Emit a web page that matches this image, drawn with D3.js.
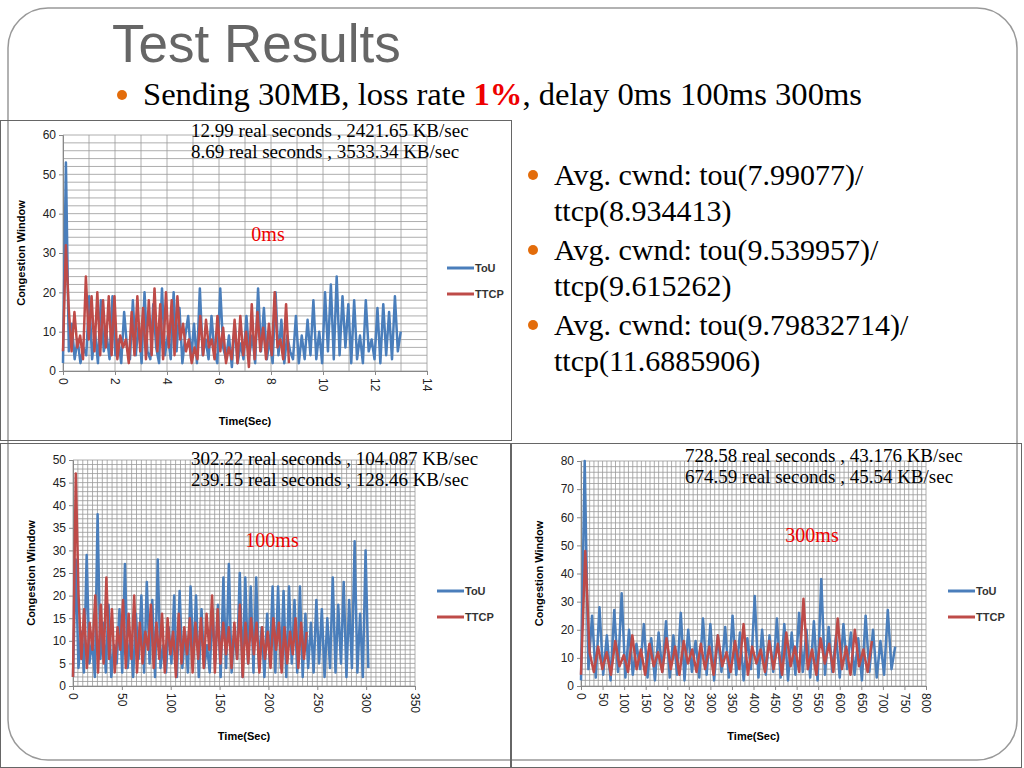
<!DOCTYPE html>
<html><head><meta charset="utf-8">
<script src="https://cdn.jsdelivr.net/npm/d3@7"></script>
<style>body{margin:0;background:#fff}svg{display:block}</style>
</head><body>
<svg id="s" width="1024" height="768"></svg>
<script>
// slide text
var title = "Test Results";
var bullets = ["Avg. cwnd: tou(7.99077)/", "ttcp(8.934413)", "Avg. cwnd: tou(9.539957)/", "ttcp(9.615262)", "Avg. cwnd: tou(9.79832714)/", "ttcp(11.6885906)"];
var seriesNames = ["ToU", "TTCP"];

// chart 1 (0ms): sample values, spread evenly over the run time
var tou0ms = [2,53,5,12,3,8,2,6,4,19,3,10,2,18,5,9,3,19,4,8,2,15,6,3,18,4,12,2,20,5,3,17,6,2,21,4,9,3,20,5,16,2,9,14,3,12,2,21,4,8,3,14,5,2,21,6,3,9,1,12,2,7,3,14,4,9,2,21,5,16,3,8,2,20,4,13,2,9,5,3,14,2,9,3,13,4,18,3,10,2,20,5,22,3,24,4,19,6,17,2,18,3,9,2,18,5,8,3,16,2,17,4,15,3,19,5,10];
var ttcp0ms = [5,32,16,5,15,6,9,3,24,8,19,5,20,4,18,6,19,4,19,3,9,6,8,2,15,4,19,5,16,3,18,4,21,5,17,3,20,6,18,4,19,8,12,5,8,2,6,3,14,4,13,6,8,3,14,5,11,2,6,3,13,2,14,4,10,1,17,3,15,5,11,3,12,4,20,6,8,3,17,2];
var dur0ms = [12.99, 8.69];

// chart 2 (100ms)
var tou100ms = [2,28,4,12,3,29,5,10,2,38,6,14,3,18,2,9,5,17,3,27,4,11,2,16,6,20,3,23,5,19,2,28,4,9,3,13,5,20,2,21,4,12,3,22,6,20,2,17,4,9,3,17,5,18,2,24,4,27,3,12,6,25,2,24,5,22,3,24,4,13,2,16,5,22,3,22,4,21,2,22,5,19,3,22,2,16,4,14,3,19,5,17,2,15,4,24,3,18,5,23,2,19,4,32,3,16,2,30,4];
var ttcp100ms = [2,47,20,6,17,4,14,8,20,3,18,5,24,6,17,3,13,8,19,4,16,6,20,3,14,5,12,8,18,4,14,6,16,3,15,7,12,2,16,5,13,7,15,3,14,6,15,4,16,8,20,3,17,5,14,7,13,4,14,6,18,2,14,5,15,7,14,3,13,6,12,4,15,8,14,3,13,5,12,7,15,4,14,6,12];
var dur100ms = [302.22, 239.15];

// chart 3 (300ms)
var tou300ms = [2,80,6,25,3,28,4,18,2,27,5,33,3,20,4,15,6,22,3,17,2,19,5,23,3,18,4,26,2,20,5,16,3,24,4,22,2,18,5,21,3,25,4,19,2,17,6,32,3,20,4,18,5,24,3,22,2,19,4,26,5,20,3,23,2,38,4,21,5,18,3,22,6,19,4,17,2,25,5,20,3,16,4,27,6,14];
var ttcp300ms = [4,48,12,5,14,6,12,4,16,7,11,5,18,6,13,4,15,7,12,5,17,6,14,4,16,8,13,5,15,6,14,4,18,7,12,5,16,6,22,4,14,8,13,5,16,6,15,4,19,7,14,5,31,6,13,4,17,8,15,5,24,6,14,4,20,7,13,5,16];
var dur300ms = [728.58, 674.59];

var charts = [
  {x0:63, x1:427, y0:371, y1:135, xmax:14, xstep:2, xminor:1, ymax:60, ystep:10, yminor:2,
   data:[tou0ms, ttcp0ms], dur:dur0ms, label:"0ms", lx:268, ly:241,
   stats:["12.99 real seconds , 2421.65 KB/sec","8.69 real seconds , 3533.34 KB/sec"], sx:191, sy:137,
   legX:447, legY:268, box:[0,120,512,321]},
  {x0:73, x1:415, y0:686, y1:460, xmax:350, xstep:50, xminor:5, ymax:50, ystep:5, yminor:1,
   data:[tou100ms, ttcp100ms], dur:dur100ms, label:"100ms", lx:272, ly:547,
   stats:["302.22 real seconds , 104.087 KB/sec","239.15 real seconds ,  128.46 KB/sec"], sx:191, sy:465,
   legX:437, legY:591, box:[0,443,512,325]},
  {x0:581, x1:926, y0:686, y1:461, xmax:800, xstep:50, xminor:10, ymax:80, ystep:10, yminor:2,
   data:[tou300ms, ttcp300ms], dur:dur300ms, label:"300ms", lx:812, ly:542,
   stats:["728.58 real seconds , 43.176 KB/sec","674.59 real seconds , 45.54 KB/sec"], sx:685, sy:462,
   legX:948, legY:591, box:[510,443,512,325]}
];
var colors = ["#4a7ebb", "#be4b48"];

var svg = d3.select("#s");
svg.append("rect").attr("x",8).attr("y",8).attr("width",1009).attr("height",752)
  .attr("rx",40).attr("fill","none").attr("stroke","#999").attr("stroke-width",1.5);

svg.append("text").attr("x",112).attr("y",62).attr("font-family","Liberation Sans, Arial")
  .attr("font-size",53).attr("fill","#666").text(title);
svg.append("circle").attr("cx",122).attr("cy",95).attr("r",5).attr("fill","#e36c0a");
var sub = svg.append("text").attr("x",143).attr("y",105).attr("font-family","Liberation Serif, serif")
  .attr("font-size",31).attr("fill","#000").attr("textLength",719).attr("lengthAdjust","spacingAndGlyphs");
sub.append("tspan").text("Sending 30MB, loss rate ");
sub.append("tspan").attr("fill","#e00").attr("font-weight","bold").text("1%");
sub.append("tspan").text(", delay 0ms 100ms 300ms");

bullets.forEach(function(b,i){
  var y = 185 + i*35.5 + Math.floor(i/2)*4;
  if(i%2===0) svg.append("circle").attr("cx",533).attr("cy",y-10).attr("r",5).attr("fill","#e36c0a");
  svg.append("text").attr("x",554).attr("y",y).attr("font-family","Liberation Serif, serif")
    .attr("font-size",30).attr("fill","#000").text(b);
});

charts.forEach(function(c){
  var g = svg.append("g");
  g.append("rect").attr("x",c.box[0]+0.5).attr("y",c.box[1]+0.5).attr("width",c.box[2]-1).attr("height",c.box[3]-1)
    .attr("fill","none").attr("stroke","#666");
  var x = d3.scaleLinear().domain([0,c.xmax]).range([c.x0,c.x1]);
  var y = d3.scaleLinear().domain([0,c.ymax]).range([c.y0,c.y1]);
  // grid
  g.selectAll(".gh").data(d3.range(0,c.ymax+0.001,c.yminor)).join("line")
    .attr("x1",c.x0).attr("x2",c.x1).attr("y1",d=>y(d)).attr("y2",d=>y(d))
    .attr("stroke","#999").attr("stroke-width",0.8);
  g.selectAll(".gv").data(d3.range(0,c.xmax+0.001,c.xminor)).join("line")
    .attr("y1",c.y0).attr("y2",c.y1).attr("x1",d=>x(d)).attr("x2",d=>x(d))
    .attr("stroke","#999").attr("stroke-width",0.8);
  // axes
  var ya = g.append("g").attr("transform","translate("+c.x0+",0)")
    .call(d3.axisLeft(y).tickValues(d3.range(0,c.ymax+0.001,c.ystep)).tickSize(4));
  var xa = g.append("g").attr("transform","translate(0,"+c.y0+")")
    .call(d3.axisBottom(x).tickValues(d3.range(0,c.xmax+0.001,c.xstep)).tickSize(4));
  [ya,xa].forEach(function(a){
    a.select(".domain").attr("stroke","#888");
    a.selectAll("line").attr("stroke","#888");
    a.selectAll("text").attr("font-family","Liberation Sans, Arial").attr("font-size",12).attr("fill","#222");
  });
  xa.selectAll("text").attr("transform","rotate(90)").attr("text-anchor","start")
    .attr("x",7).attr("y",0).attr("dy","0.35em");
  g.append("text").attr("transform","translate("+(c.x0-38)+","+((c.y0+c.y1)/2)+") rotate(-90)")
    .attr("text-anchor","middle").attr("font-family","Liberation Sans, Arial").attr("font-weight","bold")
    .attr("font-size",11).text("Congestion Window");
  g.append("text").attr("x",(c.x0+c.x1)/2).attr("y",c.y0+54).attr("text-anchor","middle")
    .attr("font-family","Liberation Sans, Arial").attr("font-weight","bold").attr("font-size",11).text("Time(Sec)");
  // series
  c.data.forEach(function(vals,k){
    var dt = c.dur[k]/(vals.length-1);
    g.append("path").datum(vals)
      .attr("d", d3.line().x((d,i)=>x(i*dt)).y(d=>y(d)))
      .attr("fill","none").attr("stroke",colors[k]).attr("stroke-width",2.5).attr("stroke-linejoin","round");
    g.append("line").attr("x1",c.legX).attr("x2",c.legX+27).attr("y1",c.legY+k*26).attr("y2",c.legY+k*26)
      .attr("stroke",colors[k]).attr("stroke-width",3);
    g.append("text").attr("x",c.legX+28).attr("y",c.legY+k*26+4).attr("font-family","Liberation Sans, Arial")
      .attr("font-size",11).attr("font-weight","bold").attr("fill","#333").text(seriesNames[k]);
  });
  c.stats.forEach(function(s,k){
    g.append("text").attr("x",c.sx).attr("y",c.sy+k*21).attr("font-family","Liberation Serif, serif")
      .attr("font-size",19).attr("fill","#000").text(s);
  });
  g.append("text").attr("x",c.lx).attr("y",c.ly).attr("text-anchor","middle").attr("font-family","Liberation Serif, serif")
    .attr("font-size",20).attr("fill","#e00").text(c.label);
});
</script>
</body></html>
